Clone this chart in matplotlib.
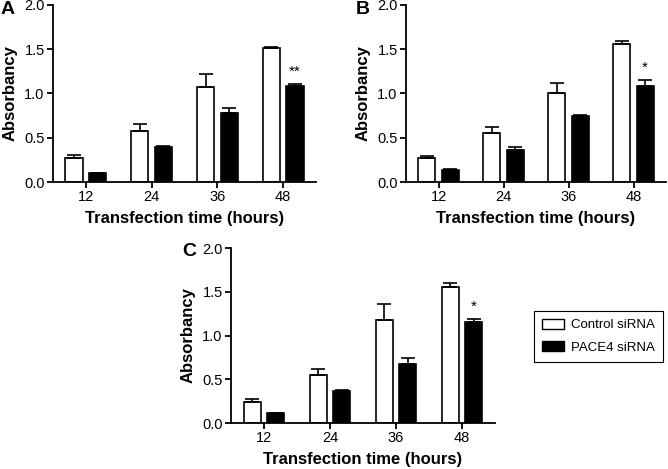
import numpy as np
import matplotlib.pyplot as plt
from matplotlib.patches import Patch

plt.rcParams['font.family'] = ['Liberation Sans', 'DejaVu Sans']

hours = ['12', '24', '36', '48']

# panel A
ctrl_a = [0.27, 0.58, 1.07, 1.51]
ctrl_a_err = [0.03, 0.07, 0.15, 0.02]
pace_a = [0.10, 0.40, 0.78, 1.08]
pace_a_err = [0.005, 0.01, 0.06, 0.03]

# panel B
ctrl_b = [0.27, 0.55, 1.01, 1.56]
ctrl_b_err = [0.02, 0.07, 0.11, 0.03]
pace_b = [0.14, 0.36, 0.75, 1.09]
pace_b_err = [0.01, 0.03, 0.01, 0.06]

# panel C
ctrl_c = [0.24, 0.55, 1.18, 1.55]
ctrl_c_err = [0.04, 0.07, 0.18, 0.05]
pace_c = [0.11, 0.37, 0.67, 1.16]
pace_c_err = [0.01, 0.01, 0.07, 0.03]

W, H = 668, 469
fig = plt.figure(figsize=(W / 100, H / 100), dpi=100)


def px_axes(left, top, right, bottom):
    return fig.add_axes([left / W, 1 - bottom / H, (right - left) / W, (bottom - top) / H])


def draw_panel(ax, ctrl, ctrl_err, pace, pace_err, star):
    x = np.arange(len(hours))
    off = 0.18
    bw = 0.26
    ekw = dict(elinewidth=1.2, capthick=1.2, ecolor='black')
    ax.bar(x - off, ctrl, bw, color='white', edgecolor='black', linewidth=1.2,
           yerr=[np.zeros(4), ctrl_err], capsize=5, error_kw=ekw)
    ax.bar(x + off, pace, bw, color='black', edgecolor='black', linewidth=1.2,
           yerr=[np.zeros(4), pace_err], capsize=5, error_kw=ekw)
    ax.text(x[-1] + off, pace[-1] + pace_err[-1] + 0.06, star, ha='center', va='bottom',
            fontsize=11)
    ax.set_xlim(-0.5, 3.5)
    ax.set_ylim(0, 2.0)
    ax.set_yticks([0, 0.5, 1.0, 1.5, 2.0])
    ax.set_yticklabels(['0.0', '0.5', '1.0', '1.5', '2.0'])
    ax.set_xticks(x)
    ax.set_xticklabels(hours)
    for s in ['top', 'right']:
        ax.spines[s].set_visible(False)
    for s in ['left', 'bottom']:
        ax.spines[s].set_linewidth(1.3)
    ax.tick_params(labelsize=10.5, width=1.3, length=4, pad=2)
    ax.set_ylabel('Absorbancy', fontsize=12, fontweight='bold', labelpad=5)
    ax.set_xlabel('Transfection time (hours)', fontsize=12, fontweight='bold', labelpad=5)
    return ax


ax_a = px_axes(53, 5, 316, 182)
draw_panel(ax_a, ctrl_a, ctrl_a_err, pace_a, pace_a_err, '**')
ax_b = px_axes(406, 5, 666, 182)
draw_panel(ax_b, ctrl_b, ctrl_b_err, pace_b, pace_b_err, '*')
ax_c = px_axes(231, 248, 495, 423)
draw_panel(ax_c, ctrl_c, ctrl_c_err, pace_c, pace_c_err, '*')

# panel letters
for letter, (lx, ly) in zip(['A', 'B', 'C'], [(1, 10), (356, 10), (182, 251)]):
    fig.text(lx / W, 1 - ly / H, letter, fontsize=14, fontweight='bold',
             ha='left', va='center')

handles = [Patch(facecolor='white', edgecolor='black', label='Control siRNA'),
           Patch(facecolor='black', edgecolor='black', label='PACE4 siRNA')]
leg = fig.legend(handles=handles, loc='upper left', bbox_to_anchor=(534 / W, 1 - 311 / H),
                 fontsize=9.5, fancybox=False, edgecolor='black', framealpha=1,
                 handlelength=1.7, handleheight=0.75, handletextpad=0.5,
                 borderpad=0.6, labelspacing=0.75, borderaxespad=0)
leg.get_frame().set_linewidth(0.8)

fig.savefig('out.png', dpi=100)
